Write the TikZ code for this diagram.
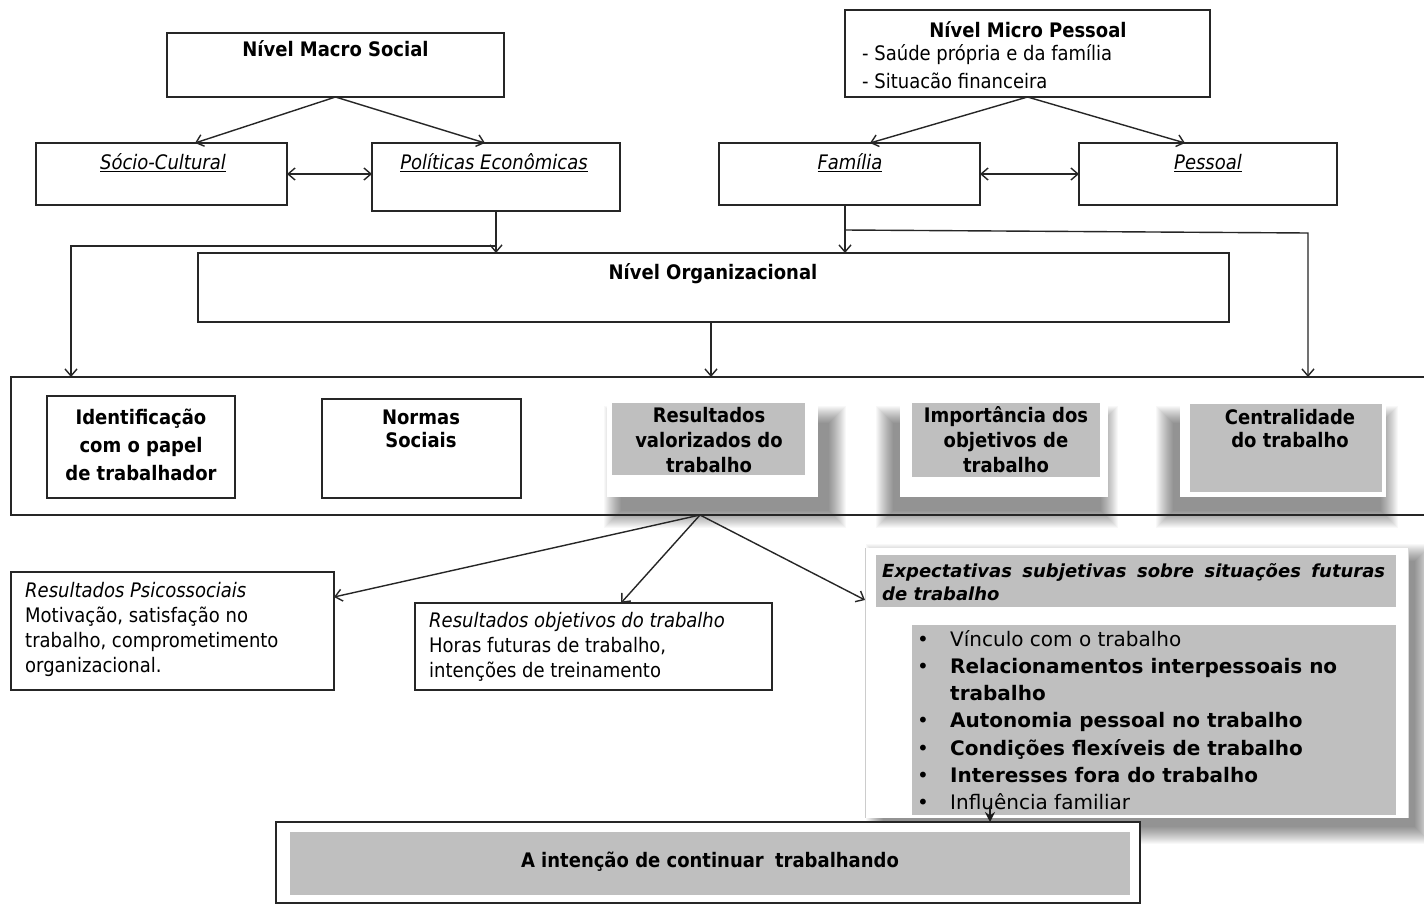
\documentclass[tikz,border=0pt]{standalone}
\usepackage{fontspec}
\IfFontExistsTF{DejaVu Sans Condensed}{\setmainfont{DejaVu Sans Condensed}\newcommand\mysz{20}}{\setmainfont{DejaVu Sans}\newcommand\mysz{18.2}}
\newfontfamily\listfont{DejaVu Sans}
\usetikzlibrary{arrows.meta,fit,calc}
\newcommand\softsh[4]{\foreach \k in {1,...,18}{\fill[black,opacity=0.028] ({#1-\k},{#2-\k}) rectangle ({#3+\k},{#4+\k});}}
\tikzset{
 box/.style={draw=black!85, line width=1.5pt, inner sep=0pt, outer sep=0pt, fill=white},
 gbox/.style={fill=black!25, draw=none, inner sep=0pt, outer sep=0pt},
 wpanel/.style={fill=white, draw=none, inner sep=0pt, outer sep=0pt},
 txt/.style={inner sep=0pt, font=\fontsize{\mysz}{25}\selectfont},
 txtb/.style={inner sep=0pt, font=\fontsize{\mysz}{25}\selectfont\bfseries},
 txti/.style={inner sep=0pt, font=\fontsize{\mysz}{25}\selectfont\itshape},
 arr/.style={line width=1.4pt, draw=black!85, -{Straight Barb[length=7pt,width=12pt]}},
 darr/.style={line width=1.4pt, draw=black!85, {Straight Barb[length=7pt,width=12pt]}-{Straight Barb[length=7pt,width=12pt]}},
 ln/.style={line width=1.5pt, draw=black!85},
}
\begin{document}
\begin{tikzpicture}[x=1pt,y=-1pt]
\useasboundingbox (0,0) rectangle (1424,905);
\fill[white] (0,0) rectangle (1424,905);
\clip (0,0) rectangle (1424,905);

% ---- top left
\node[box, fit={(167,33)(504,97)}] (macro) {};
\node[txtb] (macroT) at (335.5,49) {Nível Macro Social};
\node[box, fit={(36,143)(287,205)}] (socio) {};
\node[txti] (socioT) at (163,163) {\underline{Sócio-Cultural}};
\node[box, fit={(372,143)(620,211)}] (pol) {};
\node[txti] (polT) at (494,163) {\underline{Políticas Econômicas}};
\draw[arr] (macro.south) -- ([xshift=33.5pt]socio.north);
\draw[arr] (macro.south) -- ([xshift=-11pt]pol.north);
\draw[darr] (socio.east) -- (socio.east -| pol.west);

% ---- top right
\node[box, fit={(845,10)(1210,97)}] (micro) {};
\node[txtb] (microT) at (1028,30) {Nível Micro Pessoal};
\node[txt, anchor=west] (microA) at (862,55) {- Saúde própria e da família};
\node[txt, anchor=west] (microB) at (862,81) {- Situacão financeira};
\node[box, fit={(719,143)(980,205)}] (fam) {};
\node[txti] (famT) at (850,163) {\underline{Família}};
\node[box, fit={(1079,143)(1337,205)}] (pess) {};
\node[txti] (pessT) at (1208,163) {\underline{Pessoal}};
\draw[arr] (micro.south) -- ([xshift=20.5pt]fam.north);
\draw[arr] (micro.south) -- ([xshift=-23pt]pess.north);
\draw[darr] (fam.east) -- (pess.west);

% ---- organizational
\node[box, fit={(198,253)(1229,322)}] (org) {};
\node[txtb] (orgT) at (713,274) {Nível Organizacional};
\draw[arr] (pol.south) -- (pol.south |- org.north);
\coordinate (famS) at ([xshift=-4.5pt]fam.south);
\draw[arr] (famS) -- (famS |- org.north);

% ---- container
\node[box, fill=none, fit={(11,377)(1440,515)}] (cont) {};
\draw[arr] ([yshift=-35pt]pol.south) -| ([xshift=60pt]cont.north west);
\coordinate (famR) at (1308,233);
\draw[arr] ([yshift=-25pt]famS) -- (famR) -- (famR |- cont.north);
\coordinate (orgS) at ([xshift=-2.5pt]org.south);
\draw[arr] (orgS) -- (orgS |- cont.north);

\softsh{622}{424}{828}{510}
\softsh{894}{424}{1100}{510}
\softsh{1174}{424}{1380}{510}
\softsh{884}{562}{1414}{826}

\node[wpanel, fit={(607,397)(818,497)}] (resP) {};
\node[gbox, fit={(612,403)(805,475)}] (res) {};
\node[txtb, align=center, font=\fontsize{\mysz}{25}\selectfont\bfseries] (resT) at (709,440) {Resultados\\valorizados do\\trabalho};
\node[wpanel, fit={(900,397)(1108,497)}] (impP) {};
\node[gbox, fit={(912,403)(1100,477)}] (imp) {};
\node[txtb, align=center, font=\fontsize{\mysz}{25}\selectfont\bfseries] (impT) at (1006,440) {Importância dos\\objetivos de\\trabalho};
\node[wpanel, fit={(1180,398)(1386,497)}] (cenP) {};
\node[gbox, fit={(1190,404)(1382,492)}] (cen) {};
\node[txtb, align=center, font=\fontsize{\mysz}{23}\selectfont\bfseries] (cenT) at (1290,429) {Centralidade\\do trabalho};

\node[box, fit={(47,396)(235,498)}] (ident) {};
\node[txtb, align=center, font=\fontsize{\mysz}{28}\selectfont\bfseries] (identT) at (141,445) {Identificação\\com o papel\\de trabalhador};
\node[box, fit={(322,399)(521,498)}] (norm) {};
\node[txtb, align=center, font=\fontsize{\mysz}{23}\selectfont\bfseries] (normT) at (421,429) {Normas\\Sociais};

\draw[ln] (cont.south west) -- (cont.south east);

% ---- lower
\coordinate (spread) at ([xshift=-25.5pt]cont.south);
\node[box, fit={(11,572)(334,690)}] (psi) {};
\node[txt, anchor=north west, align=left] (psiT) at (25,582) {\textit{Resultados Psicossociais}\\Motivação, satisfação no\\trabalho, comprometimento\\organizacional.};
\node[box, fit={(415,603)(772,690)}] (obj) {};
\node[txt, anchor=north west, align=left] (objT) at (429,612) {\textit{Resultados objetivos do trabalho}\\Horas futuras de trabalho,\\intenções de treinamento};

\node[wpanel, fit={(865,548)(1408,818)}] (expP) {};
\draw[black!20, line width=0.8pt] (expP.north west) -- (expP.south west);
\draw[black!15, line width=0.8pt] (expP.north east) -- (expP.south east);
\node[gbox, fit={(876,555)(1396,607)}] (expH) {};
\node[anchor=north west, text width=503pt, align=justify, inner sep=0pt, font=\listfont\bfseries\itshape\fontsize{18}{23}\selectfont] (expHT) at (882,563) {Expectativas subjetivas sobre situações futuras\linebreak de trabalho};
\node[gbox, fit={(912,625)(1396,815)}] (expL) {};
\node[anchor=north west, align=left, inner sep=0pt, font=\listfont\fontsize{20}{27.2}\selectfont] (expLT) at (917,630) {%
\makebox[33pt][l]{\textbullet}Vínculo com o trabalho\\
\makebox[33pt][l]{\textbullet}\textbf{Relacionamentos interpessoais no}\\
\hspace*{33pt}\textbf{trabalho}\\
\makebox[33pt][l]{\textbullet}\textbf{Autonomia pessoal no trabalho}\\
\makebox[33pt][l]{\textbullet}\textbf{Condições flexíveis de trabalho}\\
\makebox[33pt][l]{\textbullet}\textbf{Interesses fora do trabalho}\\
\makebox[33pt][l]{\textbullet}Influência familiar};

\draw[arr] (spread) -- ([yshift=34pt]psi.east);
\draw[arr] (spread) -- ([xshift=27.5pt]obj.north);
\draw[arr] (spread) -- ([yshift=83pt]expP.west);

% ---- final
\node[box, fit={(276,822)(1140,903)}] (fin) {};
\node[gbox, fit={(290,832)(1130,895)}] (finG) {};
\node[txtb] (finT) at (710,862) {A intenção de continuar\hspace{5pt} trabalhando};
\draw[line width=2pt, draw=black!90, -{Stealth[length=10pt,width=10pt]}] ([xshift=-164pt,yshift=9pt]expL.south) -- ([xshift=-164pt]expL.south |- fin.north);
\end{tikzpicture}
\end{document}
